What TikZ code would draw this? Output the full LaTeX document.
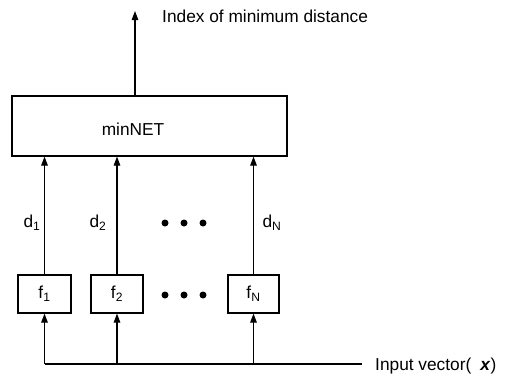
\documentclass[tikz,border=0pt]{standalone}
\usepackage{fontspec}
\setmainfont{Liberation Sans}
\usetikzlibrary{arrows.meta}
\begin{document}
\begin{tikzpicture}[x=1pt,y=-1pt,
  lw/.style={line width=1.1pt},
  box/.style={draw,lw,inner sep=0pt},
  arr/.style={lw,-{Triangle[length=9pt,width=6.5pt]}},
  txt/.style={inner sep=0pt,font=\fontsize{17.3}{19}\selectfont},
  dot/.style={fill,circle,inner sep=0pt,minimum size=7pt}]
\useasboundingbox (0,0) rectangle (513,386);
\node[box,minimum width=275pt,minimum height=60pt] (minnet) at (149.5,126) {};
\node[txt] (mtxt) at (133,129) {minNET};
\node[box,minimum width=53pt,minimum height=38pt,txt] (f1) at (44.5,294) {f\textsubscript{1}};
\node[box,minimum width=52pt,minimum height=38pt,txt] (f2) at (117,294) {f\textsubscript{2}};
\node[box,minimum width=51pt,minimum height=38pt,txt] (fN) at (253.5,294) {f\textsubscript{N}};
\coordinate (bl) at (45,364);
\coordinate (inp) at (362,364);
\coordinate (out) at (135,11);
\draw[lw] (bl) -- (inp);
\foreach \f in {f1,f2,fN}{
  \draw[arr] (\f.south |- bl) -- (\f.south);
  \draw[arr] (\f.north) -- (\f.north |- minnet.south);
}
\draw[arr] (minnet.north -| out) -- (out);
\node[txt,anchor=west] (outl) at (162,16) {Index of minimum distance};
\node[txt,anchor=west] (inl) at (375,366) {Input vector(\hspace{9pt}\textbf{\textit{x}})};
\node[txt] (d1) at (32,223) {d\textsubscript{1}};
\node[txt] (d2) at (98,223) {d\textsubscript{2}};
\node[txt] (dN) at (272,223) {d\textsubscript{N}};
\foreach \x/\n in {165/a,184/b,203/c}{
  \node[dot] (u\n) at (\x,223) {};
  \node[dot] (l\n) at (\x,295) {};
}
\end{tikzpicture}
\end{document}
